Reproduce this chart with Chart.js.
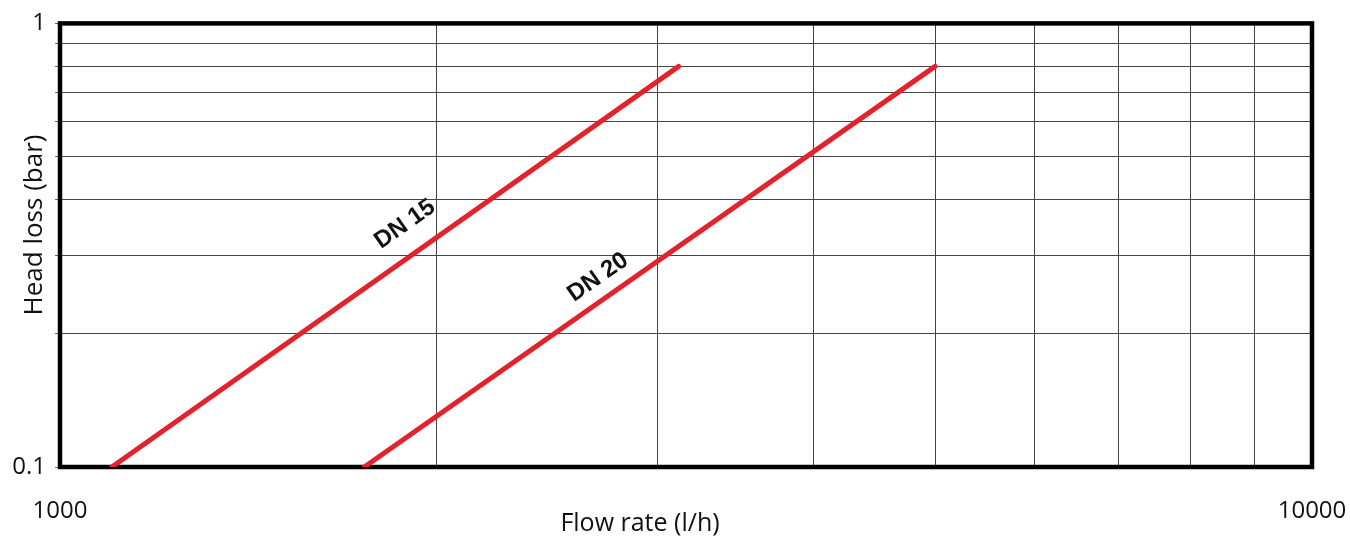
<!DOCTYPE html>
<html>
<head>
<meta charset="utf-8">
<script src="https://cdn.jsdelivr.net/npm/chart.js@4.4.1/dist/chart.umd.min.js"></script>
<style>
    html, body { margin: 0; padding: 0; background: #fff; }
    #wrap { width: 1350px; height: 539px; position: relative; }
</style>
</head>
<body>
<div id="wrap"><canvas id="lossChart"></canvas></div>
<script>
// series (flow in l/h, head loss in bar)
const seriesNames = ['DN 15', 'DN 20'];
const dn15Flow = [1100, 3120];
const dn15Loss = [0.1, 0.8];
const dn20Flow = [1750, 5000];
const dn20Loss = [0.1, 0.8];

// grid positions of the log axes, and the few that carry a label
const xGridValues = [1000, 2000, 3000, 4000, 5000, 6000, 7000, 8000, 9000, 10000];
const yGridValues = [0.1, 0.2, 0.3, 0.4, 0.5, 0.6, 0.7, 0.8, 0.9, 1];
const xTickLabels = [1000, 10000];
const yTickLabels = [0.1, 1];

const xTitle = 'Flow rate (l/h)';
const yTitle = 'Head loss (bar)';

const RED = '#e3232b';
const INK = '#111';

function toPoints(xs, ys) {
    return xs.map((x, i) => ({ x: x, y: ys[i] }));
}

function isLabelled(list, v) {
    return list.some(t => Math.abs(t - v) < 1e-9 * Math.max(1, t));
}

// frame, axis titles and the rotated DN captions
const decorations = {
    id: 'decorations',
    beforeDatasetsDraw(chart) {
        const { ctx, chartArea: a } = chart;
        ctx.save();
        ctx.strokeStyle = '#000';
        ctx.lineWidth = 4.5;
        ctx.strokeRect(a.left, a.top, a.right - a.left, a.bottom - a.top);
        ctx.restore();
    },
    afterDatasetsDraw(chart) {
        const { ctx, scales } = chart;
        const captions = [
            { along: 1945, gap: 29 },
            { along: 2750, gap: 21 }
        ];
        chart.data.datasets.forEach((ds, i) => {
            const p0 = ds.data[0], p1 = ds.data[ds.data.length - 1];
            const x0 = scales.x.getPixelForValue(p0.x), y0 = scales.y.getPixelForValue(p0.y);
            const x1 = scales.x.getPixelForValue(p1.x), y1 = scales.y.getPixelForValue(p1.y);
            const ang = Math.atan2(y1 - y0, x1 - x0);
            const px = scales.x.getPixelForValue(captions[i].along);
            const t = (px - x0) / (x1 - x0);
            const py = y0 + t * (y1 - y0);
            ctx.save();
            ctx.translate(px + Math.sin(ang) * captions[i].gap, py - Math.cos(ang) * captions[i].gap);
            ctx.rotate(ang);
            ctx.font = 'bold 24px "Liberation Sans", Arial, sans-serif';
            ctx.fillStyle = INK;
            ctx.textAlign = 'center';
            ctx.textBaseline = 'middle';
            ctx.fillText(ds.label, 0, 0);
            ctx.restore();
        });

        ctx.save();
        ctx.fillStyle = INK;
        ctx.textAlign = 'center';
        ctx.textBaseline = 'middle';
        ctx.font = '25px "Open Sans", sans-serif';
        ctx.fillText(xTitle, 640, 524);
        ctx.font = '26px "Open Sans", sans-serif';
        ctx.translate(35, 225);
        ctx.rotate(-Math.PI / 2);
        ctx.fillText(yTitle, 0, 0);
        ctx.restore();
    }
};

new Chart(document.getElementById('lossChart'), {
    type: 'line',
    data: {
        datasets: [
            { label: seriesNames[0], data: toPoints(dn15Flow, dn15Loss) },
            { label: seriesNames[1], data: toPoints(dn20Flow, dn20Loss) }
        ].map(d => Object.assign(d, {
            borderColor: RED,
            borderWidth: 5,
            borderCapStyle: 'round',
            pointRadius: 0,
            fill: false,
            tension: 0
        }))
    },
    options: {
        responsive: true,
        maintainAspectRatio: false,
        animation: false,
        events: [],
        layout: { padding: { top: 21, right: 38, left: 0, bottom: 0 } },
        plugins: { legend: { display: false }, tooltip: { enabled: false } },
        scales: {
            x: {
                type: 'logarithmic',
                min: 1000,
                max: 10000,
                afterBuildTicks: s => { s.ticks = xGridValues.map(v => ({ value: v })); },
                afterFit: s => { s.height = 72; s.paddingLeft = 0; s.paddingRight = 0; },
                border: { display: false },
                grid: { color: '#444', lineWidth: 1, drawTicks: false },
                ticks: {
                    autoSkip: false,
                    maxRotation: 0,
                    padding: 30,
                    color: INK,
                    font: { family: '"Open Sans", sans-serif', size: 24 },
                    callback: v => isLabelled(xTickLabels, v) ? String(v) : ''
                }
            },
            y: {
                type: 'logarithmic',
                min: 0.1,
                max: 1,
                afterBuildTicks: s => { s.ticks = yGridValues.map(v => ({ value: v })); },
                afterFit: s => { s.width = 60; },
                border: { display: false },
                grid: { color: '#444', lineWidth: 1, tickLength: 5, tickColor: '#666' },
                ticks: {
                    autoSkip: false,
                    padding: 9,
                    color: INK,
                    font: { family: '"Open Sans", sans-serif', size: 24 },
                    callback: v => isLabelled(yTickLabels, v) ? String(Number(v.toPrecision(3))) : ''
                }
            }
        }
    },
    plugins: [decorations]
});
</script>
</body>
</html>
